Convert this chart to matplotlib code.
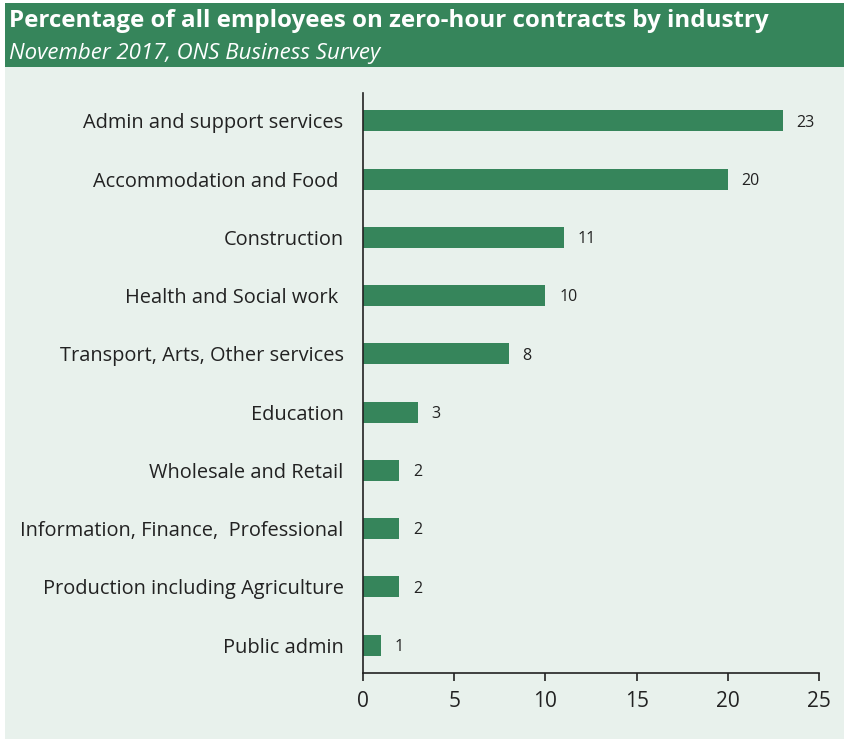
import matplotlib
matplotlib.use("Agg")
import matplotlib.pyplot as plt
from matplotlib.patches import Rectangle

industries = [
    "Admin and support services",
    "Accommodation and Food ",
    "Construction",
    "Health and Social work ",
    "Transport, Arts, Other services",
    "Education",
    "Wholesale and Retail",
    "Information, Finance,  Professional",
    "Production including Agriculture",
    "Public admin",
]
percent = [23, 20, 11, 10, 8, 3, 2, 2, 2, 1]
xticks = [0, 5, 10, 15, 20, 25]

GREEN = "#36855B"
PALE = "#E8F1EC"
TEXT = "#222222"

plt.rcParams["font.family"] = ["Open Sans", "DejaVu Sans"]

W, H = 844, 739
fig = plt.figure(figsize=(W / 100, H / 100), dpi=100, facecolor="white")

# panel background and header band
fig.patches.append(Rectangle((5 / W, 0), 1 - 5 / W, 1 - 67 / H, transform=fig.transFigure,
                             facecolor=PALE, edgecolor="none", zorder=-10))
fig.patches.append(Rectangle((5 / W, 1 - 67 / H), 1 - 5 / W, 64 / H, transform=fig.transFigure,
                             facecolor=GREEN, edgecolor="none", zorder=-10))
fig.text(9 / W, 1 - 21 / H, "Percentage of all employees on zero-hour contracts by industry",
         color="white", fontsize=17.4, fontweight="bold", va="center", ha="left")
fig.text(9 / W, 1 - 54 / H, "November 2017, ONS Business Survey",
         color="white", fontsize=16, fontstyle="italic", va="center", ha="left")

x0, x1 = 363, 819
y_top, y_bot = 93, 673
ax = fig.add_axes([x0 / W, 1 - y_bot / H, (x1 - x0) / W, (y_bot - y_top) / H], zorder=5)
ax.set_facecolor("none")

ypos = list(range(len(industries)))
ax.barh(ypos, percent, height=0.36, color=GREEN, zorder=2)
for y, v in zip(ypos, percent):
    ax.text(v + 0.75, y + 0.03, f"{v}", va="center", ha="left", fontsize=11.5, color=TEXT)

ax.set_ylim(len(industries) - 0.52, -0.48)
ax.set_xlim(0, 25)
ax.set_xticks(xticks)
ax.set_yticks(ypos)
ax.set_yticklabels(industries, fontsize=14.4, color=TEXT)
ax.tick_params(axis="y", length=0, pad=14)
ax.tick_params(axis="x", length=6, width=1.2, color=TEXT, labelsize=15, labelcolor=TEXT, pad=7)
for s in ("top", "right"):
    ax.spines[s].set_visible(False)
for s in ("left", "bottom"):
    ax.spines[s].set_color(TEXT)
    ax.spines[s].set_linewidth(1.2)

fig.savefig("out.png", dpi=100, facecolor="white")
